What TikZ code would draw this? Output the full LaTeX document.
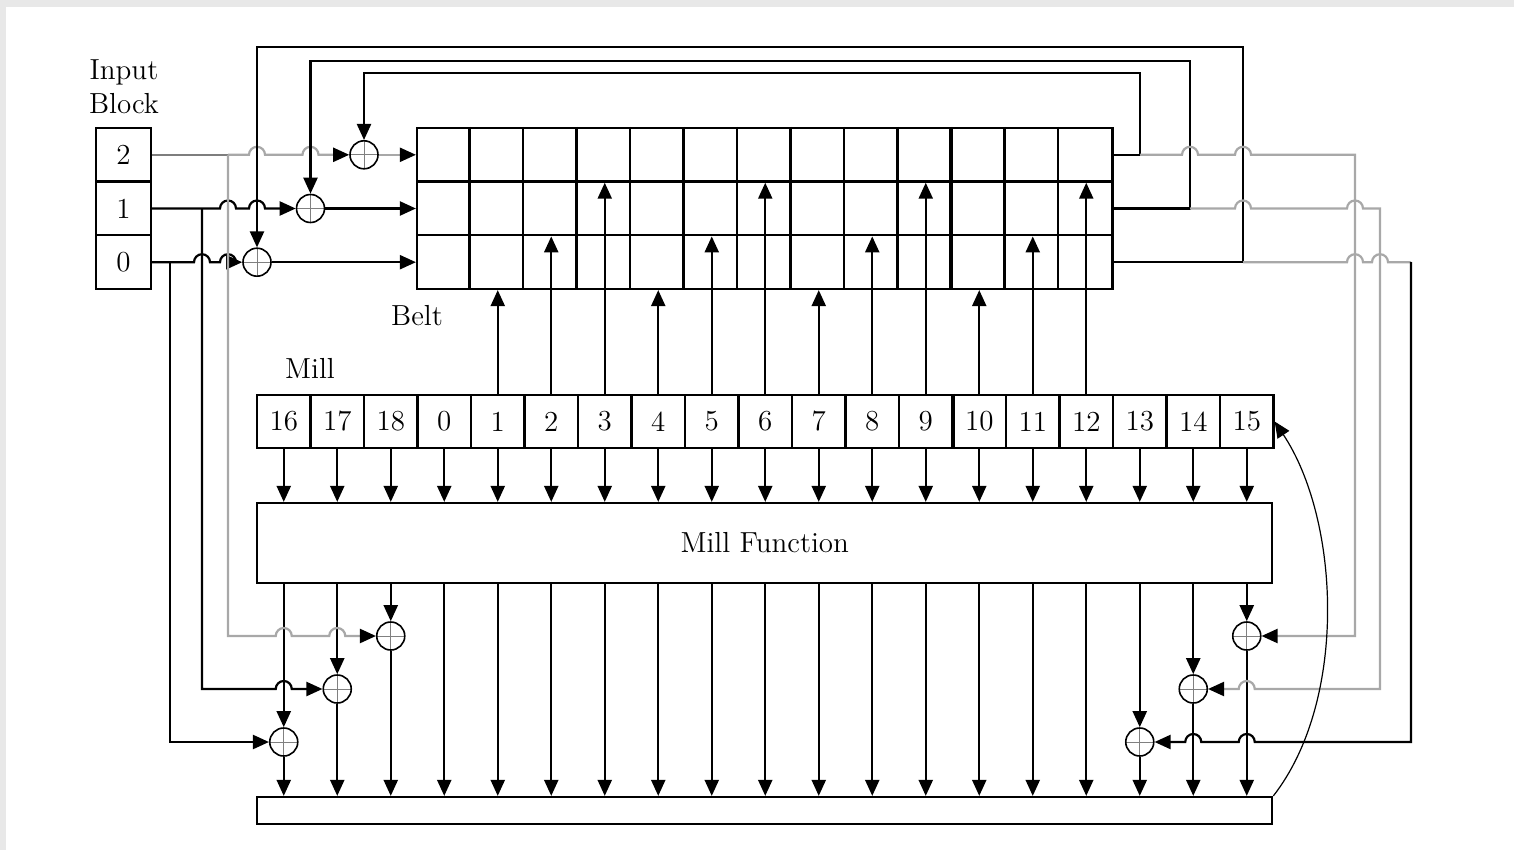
\documentclass[tikz,border=0pt]{standalone}
\usetikzlibrary{arrows.meta,calc,positioning}
\definecolor{wiregrey}{HTML}{A8A8A8}
\definecolor{wiredark}{HTML}{7E7E7E}
\definecolor{pageframe}{HTML}{E8E8E8}

% line hops over a vertical wire (x from #1, y from #2)
\newcommand{\hopR}[2]{-- ($(#1 |- #2)+(-4pt,0pt)$) arc[start angle=180,end angle=0,radius=4pt]}
\newcommand{\hopL}[2]{-- ($(#1 |- #2)+(4pt,0pt)$) arc[start angle=0,end angle=180,radius=4pt]}

\begin{document}
\begin{tikzpicture}[
  x=0.5pt, y=-0.5pt,
  font=\fontsize{14.5}{17}\selectfont,
  line width=1.1pt,
  >={Triangle[length=8pt,width=7pt,color=black]},
  cell/.style   ={draw, minimum width=26.75pt, minimum height=26.6pt, inner sep=0pt},
  inbox/.style  ={cell, minimum width=27.5pt, minimum height=26.8pt},
  beltrow/.style={draw, minimum width=347.75pt, minimum height=26.8pt, inner sep=0pt},
  bar/.style    ={draw, minimum width=507.5pt, inner sep=0pt},
  xor/.style    ={circle, draw, line width=0.8pt, minimum size=14pt, inner sep=0pt,
                  path picture={\draw[line width=0.5pt, gray]
                    (path picture bounding box.north) -- (path picture bounding box.south)
                    (path picture bounding box.west) -- (path picture bounding box.east);}},
  gwire/.style  ={draw=wiregrey},
  back/.style   ={line width=0.6pt},
]
  \useasboundingbox (0,0) rectangle (1514,850);
  \fill[pageframe] (0,0) rectangle (1514,850);
  \fill[white] (6,7) rectangle (1514,850);

  % --- input block ---
  \node[inbox] (in2) at (123.5,154.8) {2};
  \node[inbox] (in1) at (123.5,208.5) {1};
  \node[inbox] (in0) at (123.5,262.2) {0};
  \node[align=center] (inlbl) at (124,87) {Input\\Block};

  % --- belt ---
  \node[beltrow] (r2) at (764.75,154.8) {};
  \node[beltrow] (r1) at (764.75,208.5) {};
  \node[beltrow] (r0) at (764.75,262.2) {};
  \foreach \c in {1,...,12}
    \draw ([xshift=\c*26.75pt]r2.north west) -- ([xshift=\c*26.75pt]r0.south west);
  \draw[line width=2pt] ([xshift=267.5pt]r2.north west) -- ([xshift=267.5pt]r0.south west);
  \node (beltlbl) at (417,316) {Belt};

  % --- mill ---
  \foreach \lab [count=\k from 0] in {16,17,18,0,1,2,3,4,5,6,7,8,9,10,11,12,13,14,15}
    \node[cell] (m\lab) at (283.75+\k*53.5,421.5) {\lab};
  \draw[line width=1.8pt] (m9.north east) -- (m9.south east);
  \node (milllbl) at (310,368) {Mill};

  \node[bar, minimum height=40pt] (mf) at (764.75,543) {Mill Function};
  \node[bar, minimum height=13.5pt] (out) at (764.75,810.5) {};

  % --- xor nodes ---
  \node[xor] (x2) at (364,154.8) {};
  \node[xor] (x1) at (310.5,208.5) {};
  \node[xor] (x0) at (257,262.2) {};
  \node[xor] (f18) at (m18 |- 0,636) {};
  \node[xor] (f17) at (m17 |- 0,689) {};
  \node[xor] (f16) at (m16 |- 0,742) {};
  \node[xor] (f15) at (m15 |- 0,636) {};
  \node[xor] (f14) at (m14 |- 0,689) {};
  \node[xor] (f13) at (m13 |- 0,742) {};

  % --- corners ---
  \coordinate (j2) at (in2 -| 228,0);
  \coordinate (j1) at (in1 -| 202,0);
  \coordinate (j0) at (in0 -| 170,0);
  \coordinate (t2) at (1140,73);
  \coordinate (t1) at (1190,61);
  \coordinate (t0) at (1243,47);
  \coordinate (s2) at (1355,636);
  \coordinate (s1) at (1380,689);
  \coordinate (s0) at (1411,742);

  % --- mill wiring ---
  \foreach \lab in {16,17,18,0,1,2,3,4,5,6,7,8,9,10,11,12,13,14,15}
    \draw[->] (m\lab.south) -- (m\lab |- mf.north);
  \foreach \lab in {0,1,2,3,4,5,6,7,8,9,10,11,12}
    \draw[->] (m\lab |- mf.south) -- (m\lab |- out.north);
  \foreach \lab in {16,17,18,13,14,15} {
    \draw[->] (m\lab |- mf.south) -- (f\lab);
    \draw[->] (f\lab) -- (m\lab |- out.north);
  }
  \foreach \lab/\row in {1/r0,2/r1,3/r2,4/r0,5/r1,6/r2,7/r0,8/r1,9/r2,10/r0,11/r1,12/r2}
    \draw[->] (m\lab) -- (m\lab |- \row.south);

  % --- input block -> belt ---
  \draw[draw=wiredark] (in2.east) -- (j2);
  \draw[gwire, ->] (j2) \hopR{x0}{in2} \hopR{x1}{in2} -- (x2);
  \draw[gwire, ->] (x2) -- (r2.west);
  \draw[->] (in1.east) \hopR{j2}{in1} \hopR{x0}{in1} -- (x1);
  \draw[->] (x1) -- (r1.west);
  \draw[->] (in0.east) \hopR{j1}{in0} \hopR{j2}{in0} -- (x0);
  \draw[->] (x0) -- (r0.west);

  % --- input block -> output xors ---
  \draw[gwire, ->] (j2) -- (j2 |- f18) \hopR{m16}{f18} \hopR{m17}{f18} -- (f18);
  \draw[->] (j1) -- (j1 |- f17) \hopR{m16}{f17} -- (f17);
  \draw[->] (j0) |- (f16.west);

  % --- belt feedback ---
  \draw[->] (r2.east) -| (t2) -| (x2.north);
  \draw[->] (r1.east) -| (t1) -| (x1.north);
  \draw[->] (r0.east) -| (t0) -| (x0.north);
  \draw[gwire, ->] (t2 |- r2) \hopR{t1}{r2} \hopR{t0}{r2} -| (s2) -- (f15);
  \draw[gwire, ->] (t1 |- r1) \hopR{t0}{r1} \hopR{s2}{r1} -| (s1) \hopL{m15}{s1} -- (f14);
  \draw[gwire] (t0 |- r0) \hopR{s2}{r0} \hopR{s1}{r0} -- (s0 |- r0);
  \draw[->] (s0 |- r0) -- (s0) \hopL{m15}{s0} \hopL{m14}{s0} -- (f13);

  % --- output back to mill ---
  \draw[back, ->] (out.north east) .. controls (1348,700) and (1340,520) .. (m15.east);
\end{tikzpicture}
\end{document}
